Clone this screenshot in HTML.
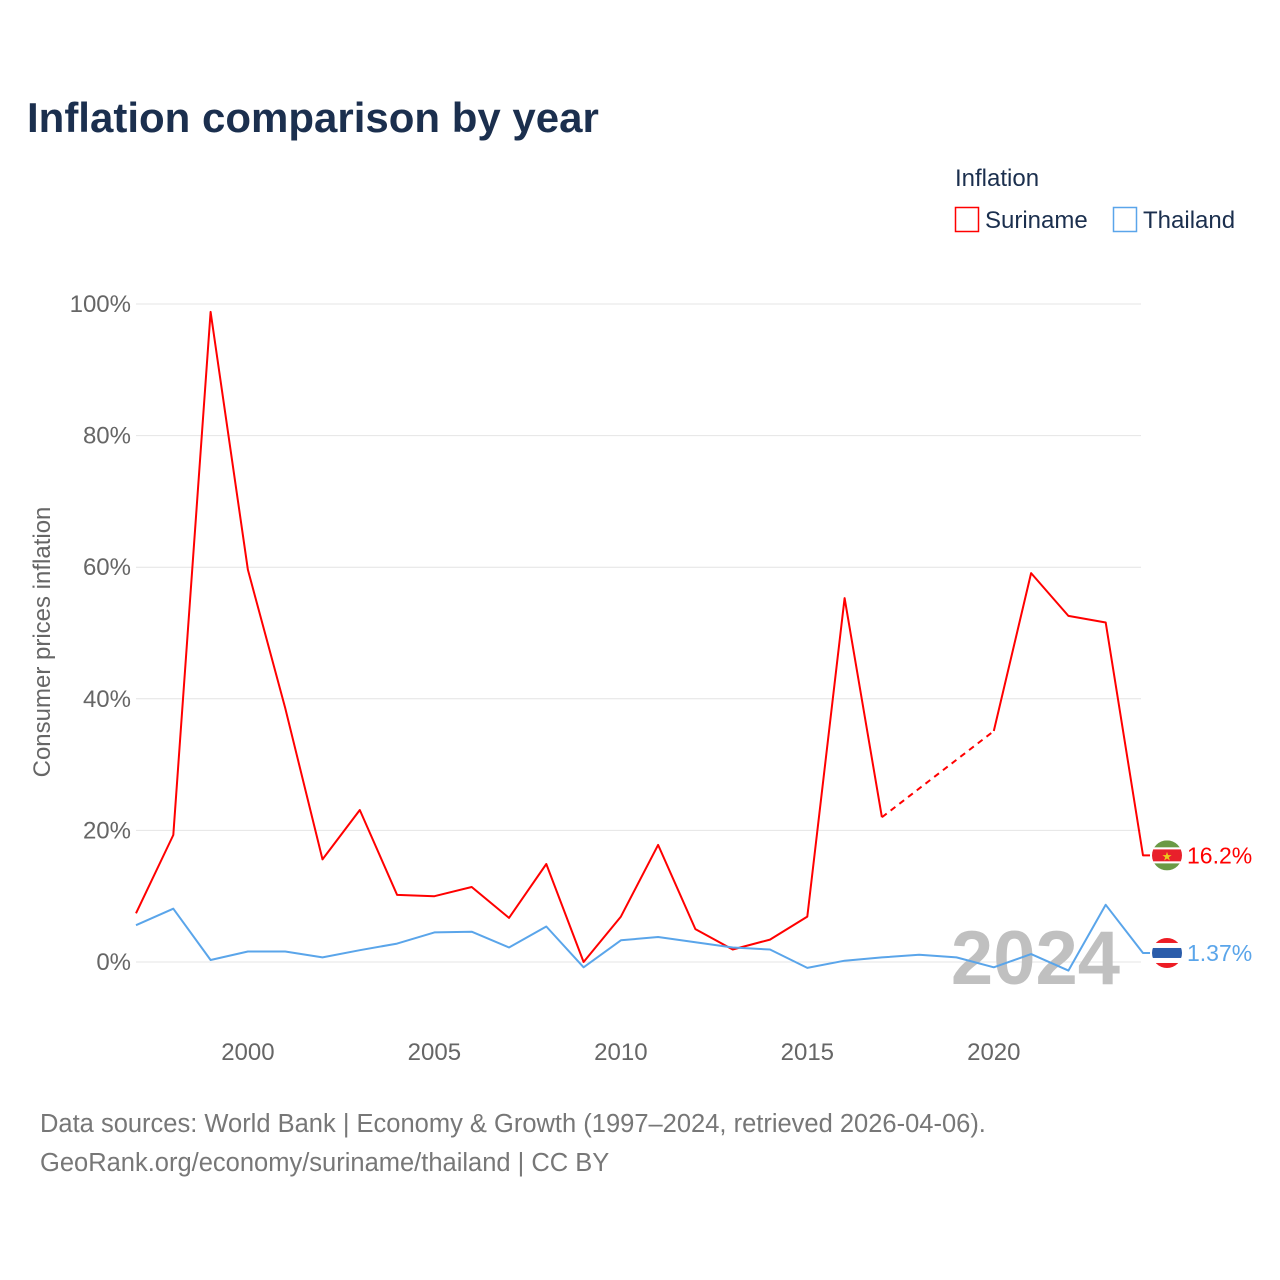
<!DOCTYPE html>
<html><head><meta charset="utf-8"><style>
body{margin:0;background:#fff;font-family:"Liberation Sans",sans-serif;}
svg{display:block}
</style></head><body>
<svg id="chart" width="1280" height="1280" viewBox="0 0 1280 1280">
<text x="27" y="132" font-size="42" font-weight="bold" fill="#1b2f4e">Inflation comparison by year</text>
<text x="955" y="186" font-size="24" fill="#1b2f4e">Inflation</text>
<g><rect x="955.5" y="207.5" width="23" height="24" fill="none" stroke="#ff0000" stroke-width="1.5"/><text x="985" y="228" font-size="24" fill="#1b2f4e">Suriname</text></g>
<g><rect x="1113.5" y="207.5" width="23" height="24" fill="none" stroke="#5aa5ea" stroke-width="1.5"/><text x="1143" y="228" font-size="24" fill="#1b2f4e">Thailand</text></g>
<text transform="translate(50,642) rotate(-90)" text-anchor="middle" font-size="24" fill="#666">Consumer prices inflation</text>
<g id="grid"></g><g id="yticks"></g><g id="xticks"></g>
<text x="1120" y="984" text-anchor="end" font-size="76" font-weight="bold" fill="#c0c0c0">2024</text>
<g id="series"></g>
<text x="40" y="1132" font-size="25.5" fill="#777">Data sources: World Bank | Economy &amp; Growth (1997–2024, retrieved 2026-04-06).</text>
<text x="40" y="1171" font-size="25.5" fill="#777">GeoRank.org/economy/suriname/thailand | CC BY</text>
</svg>
<script>
const years=[1997,1998,1999,2000,2001,2002,2003,2004,2005,2006,2007,2008,2009,2010,2011,2012,2013,2014,2015,2016,2017,2018,2019,2020,2021,2022,2023,2024];
const suriname=[7.4,19.3,98.8,59.6,38.6,15.6,23.1,10.2,10.0,11.4,6.7,14.9,0.0,6.9,17.8,5.0,1.9,3.4,6.9,55.3,22.0,null,null,35.1,59.1,52.6,51.6,16.2];
const thailand=[5.6,8.1,0.3,1.6,1.6,0.7,1.8,2.8,4.5,4.6,2.2,5.4,-0.8,3.3,3.8,3.0,2.2,1.9,-0.9,0.2,0.7,1.1,0.7,-0.8,1.2,-1.3,8.7,1.37];
const yTicks=[0,20,40,60,80,100];
const xTicks=[2000,2005,2010,2015,2020];
const NS="http://www.w3.org/2000/svg";
const X=y=>136+(y-1997)*(1143-136)/27;
const Y=v=>962-v*6.58;
function mk(tag,attrs,parent){const e=document.createElementNS(NS,tag);for(const k in attrs)e.setAttribute(k,attrs[k]);parent.appendChild(e);return e;}
const grid=document.getElementById('grid'),yt=document.getElementById('yticks'),xt=document.getElementById('xticks'),sg=document.getElementById('series');
yTicks.forEach(v=>{
 const l=mk('line',{x1:136,x2:1141,y1:Y(v),y2:Y(v),stroke:'#e4e4e4','stroke-width':1},grid);
 
 
 const t=mk('text',{x:131,y:Y(v)+8,'text-anchor':'end','font-size':24,fill:'#666'},yt);
 t.textContent=v+'%';
 
 
});
xTicks.forEach(v=>{
 const t=mk('text',{x:X(v),y:1060,'text-anchor':'middle','font-size':24,fill:'#666'},xt);
 t.textContent=v;
 
 
});
function draw(vals,color,name){
 let d='',pen=false,last=null;const dashes=[];
 vals.forEach((v,i)=>{
  if(v==null){pen=false;return;}
  const p=[X(years[i]),Y(v)];
  if(!pen&&last){dashes.push([last,p]);}
  d+=(pen?'L':'M')+p[0].toFixed(1)+','+p[1].toFixed(1);
  pen=true;last=p;
 });
 d+='L'+(last[0]+7)+','+last[1];
 const path=mk('path',{d:d,fill:'none',stroke:color,'stroke-width':2,'stroke-linejoin':'round'},sg);
 
 
 dashes.forEach(([a,b])=>{
  const dl=mk('line',{x1:a[0],y1:a[1],x2:b[0],y2:b[1],stroke:color,'stroke-width':2,'stroke-dasharray':'6,5'},sg);
  
  
 });
 return last;
}
const ls=draw(suriname,'#ff0000','suriname');
const lt=draw(thailand,'#5aa5ea','thailand');
function flag(cx,cy,stripes,name){
 const g=mk('g',{},sg);
 
 
 const id='c'+name;
 const cp=mk('clipPath',{id:id},g);mk('circle',{cx:cx,cy:cy,r:15},cp);
 let yy=cy-15;stripes.forEach(([h,c])=>{mk('rect',{x:cx-15,y:yy,width:30,height:h,fill:c,'clip-path':'url(#'+id+')'},g);yy+=h;});
 return g;
}
const fs=flag(1167,ls[1],[[7,'#6a9a45'],[2,'#fff'],[12,'#e8202b'],[2,'#fff'],[7,'#6a9a45']],'suriname');
const st=mk('text',{x:1167,y:ls[1]+5,'text-anchor':'middle','font-size':12,fill:'#ecc81d'},fs);st.textContent='★';
flag(1167,lt[1],[[5,'#ed1c24'],[5,'#fff'],[10,'#2a5caa'],[5,'#fff'],[5,'#ed1c24']],'thailand');
const a=mk('text',{x:1187,y:ls[1]+8,'font-size':23,fill:'#ff0000'},sg);a.textContent=suriname[suriname.length-1]+'%';


const b=mk('text',{x:1187,y:lt[1]+8,'font-size':23,fill:'#5aa5ea'},sg);b.textContent=thailand[thailand.length-1]+'%';


</script>
</body></html>
